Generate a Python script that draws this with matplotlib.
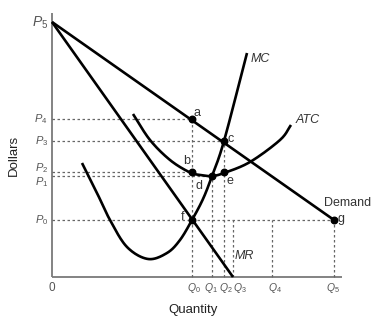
import numpy as np
import matplotlib
matplotlib.use("Agg")
import matplotlib.pyplot as plt

plt.rcParams['font.family'] = ['Liberation Sans', 'DejaVu Sans']
plt.rcParams['mathtext.fontset'] = 'custom'
plt.rcParams['mathtext.rm'] = 'Liberation Sans'
plt.rcParams['mathtext.it'] = 'Liberation Sans:italic'

# ---- data (quantity and dollar levels) ----
q_levels = {'Q0': 14.0, 'Q1': 16.0, 'Q2': 17.2, 'Q3': 18.1, 'Q4': 22.0, 'Q5': 28.2}
p_levels = {'P0': 5.7, 'P1': 10.1, 'P2': 10.5, 'P3': 13.6, 'P4': 15.8, 'P5': 25.5}

mc_q = [3.0, 4.5, 5.8, 7.5, 9.6, 11.5, 12.8, 14.0, 15.1, 16.0, 17.2, 19.5]
mc_p = [11.4, 8.4, 5.7, 3.0, 1.8, 2.4, 3.7, 5.7, 7.8, 10.1, 13.6, 22.4]

atc_q = [8.1, 9.8, 11.8, 13.7, 14.8, 16.0, 17.2, 19.8, 22.8, 23.9]
atc_p = [16.3, 13.7, 11.7, 10.5, 10.2, 10.1, 10.4, 11.5, 13.7, 15.2]

Q0, Q1, Q2, Q3, Q4, Q5 = (q_levels[k] for k in ['Q0', 'Q1', 'Q2', 'Q3', 'Q4', 'Q5'])
P0, P1, P2, P3, P4, P5 = (p_levels[k] for k in ['P0', 'P1', 'P2', 'P3', 'P4', 'P5'])


def catmull(xs, ys, n=20):
    pts = np.column_stack([xs, ys]).astype(float)
    pts = np.vstack([2 * pts[0] - pts[1], pts, 2 * pts[-1] - pts[-2]])
    out = []
    for i in range(1, len(pts) - 2):
        p0, p1, p2, p3 = pts[i - 1], pts[i], pts[i + 1], pts[i + 2]
        t = np.linspace(0, 1, n, endpoint=False)[:, None]
        seg = 0.5 * ((2 * p1) + (-p0 + p2) * t + (2 * p0 - 5 * p1 + 4 * p2 - p3) * t ** 2
                     + (-p0 + 3 * p1 - 3 * p2 + p3) * t ** 3)
        out.append(seg)
    out.append(pts[-2][None, :])
    out = np.vstack(out)
    return out[:, 0], out[:, 1]


fig = plt.figure(figsize=(3.78, 3.21), dpi=100)
ax = fig.add_axes([0, 0, 1, 1])
ax.set_xlim(-5.2, 32.6)
ax.set_ylim(-4.4, 27.7)
ax.axis('off')

axis_col = '#7a7a7a'
dash_col = '#666666'
txt_col = '#333333'
lab_col = '#555555'

# axes lines
ax.plot([0, 0], [0, 26.4], color=axis_col, lw=1.3, solid_capstyle='butt')
ax.plot([0, 29.0], [0, 0], color=axis_col, lw=1.3, solid_capstyle='butt')

dkw = dict(color=dash_col, lw=0.9, ls=(0, (2, 2)))
# horizontal dashed
ax.plot([0, Q0], [P4, P4], **dkw)
ax.plot([0, Q2], [P3, P3], **dkw)
ax.plot([0, Q0], [P2, P2], **dkw)
ax.plot([0, Q1], [P1, P1], **dkw)
ax.plot([0, Q5], [P0, P0], **dkw)
# vertical dashed
ax.plot([Q0, Q0], [0, P4], **dkw)
ax.plot([Q1, Q1], [0, P1], **dkw)
ax.plot([Q2, Q2], [0, P3], **dkw)
ax.plot([Q3, Q3], [0, P0], **dkw)
ax.plot([Q4, Q4], [0, P0], **dkw)
ax.plot([Q5, Q5], [0, P0], **dkw)

lkw = dict(color='black', lw=1.9, solid_capstyle='butt')
# demand and MR
ax.plot([0, Q5], [P5, P0], **lkw)
ax.plot([0, Q3], [P5, 0], **lkw)
# MC and ATC
x, y = catmull(mc_q, mc_p)
ax.plot(x, y, **lkw)
x, y = catmull(atc_q, atc_p)
ax.plot(x, y, **lkw)

# points
pts_q = [Q0, Q0, Q2, Q1, Q2, Q0, Q5]
pts_p = [P4, P2, P3, P1, P2, P0, P0]
ax.scatter(pts_q, pts_p, s=22, color='black', zorder=5)

# price labels
for name, val, yoff in [('P5', P5, -0.1), ('P4', P4, 0.0), ('P3', P3, 0.0),
                        ('P2', P2, 0.35), ('P1', P1, -0.6), ('P0', P0, 0.0)]:
    fs = 10 if name == 'P5' else 8
    ax.text(-0.4, val + yoff, r'$P_{%s}$' % name[1], ha='right', va='center',
            fontsize=fs, color=lab_col)

for name, xv in [('Q0', 14.2), ('Q1', 15.9), ('Q2', 17.4), ('Q3', 18.8), ('Q4', 22.3), ('Q5', 28.1)]:
    ax.text(xv, -1.1, r'$Q_{%s}$' % name[1], ha='center', va='center', fontsize=7.5, color=lab_col)

ax.text(0, -1.1, '0', ha='center', va='center', fontsize=8.5, color=lab_col)
ax.text(14.1, -3.3, 'Quantity', ha='center', va='center', fontsize=9.5, color='#222222')
ax.text(-3.8, 12.2, 'Dollars', ha='center', va='center', fontsize=9.5, color='#222222', rotation=90)

ax.text(19.9, 21.8, 'MC', ha='left', va='center', fontsize=9, color=txt_col, style='italic')
ax.text(24.4, 15.7, 'ATC', ha='left', va='center', fontsize=9, color=txt_col, style='italic')
ax.text(27.2, 7.4, 'Demand', ha='left', va='center', fontsize=9, color=txt_col)
ax.text(28.6, 5.8, 'g', ha='left', va='center', fontsize=9, color=txt_col)
ax.text(18.3, 2.1, 'MR', ha='left', va='center', fontsize=9, color=txt_col, style='italic')

for s, xv, yv in [('a', 14.5, 16.4), ('c', 17.9, 13.8), ('b', 13.5, 11.6),
                  ('d', 14.7, 9.1), ('e', 17.8, 9.6), ('f', 13.1, 6.0)]:
    ax.text(xv, yv, s, ha='center', va='center', fontsize=9, color=txt_col)

fig.savefig('out.png', dpi=100)
